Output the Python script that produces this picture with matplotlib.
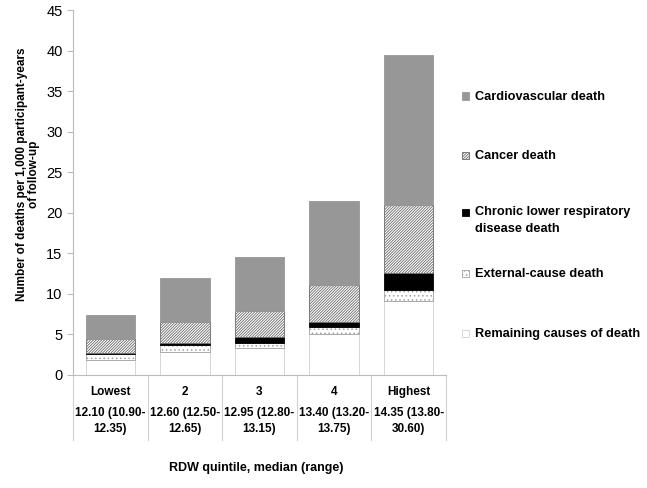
import matplotlib
matplotlib.use("Agg")
import matplotlib.pyplot as plt
from matplotlib.patches import Rectangle
import numpy as np

categories = ["Lowest", "2", "3", "4", "Highest"]
ranges_line1 = ["12.10 (10.90-", "12.60 (12.50-", "12.95 (12.80-", "13.40 (13.20-", "14.35 (13.80-"]
ranges_line2 = ["12.35)", "12.65)", "13.15)", "13.75)", "30.60)"]

remaining = [1.84, 2.82, 3.39, 5.00, 9.10]
external = [0.70, 0.82, 0.54, 0.90, 1.33]
clrd = [0.20, 0.33, 0.77, 0.65, 2.13]
cancer = [1.64, 2.57, 3.19, 4.54, 8.34]
cardio = [3.06, 5.36, 6.71, 10.39, 18.50]

plt.rcParams['font.family'] = ['Liberation Sans', 'DejaVu Sans']
plt.rcParams['hatch.linewidth'] = 0.6

W, H = 647, 488
fig = plt.figure(figsize=(W / 100, H / 100), dpi=100)
ax = fig.add_axes([73 / W, (H - 375) / H, (446 - 73) / W, (375 - 10) / H])

x = np.arange(len(categories))
bw = 0.66
bottom = np.zeros(len(categories))
edge = "#d0d0d0"

series = [
    (remaining, dict(facecolor="white", edgecolor=edge), "Remaining causes of death"),
    (external, dict(facecolor="white", edgecolor="#a0a0a0", hatch="...."), "External-cause death"),
    (clrd, dict(facecolor="black", edgecolor="black"), "Chronic lower respiratory\ndisease death"),
    (cancer, dict(facecolor="white", edgecolor="#6a6a6a", hatch="////////////"), "Cancer death"),
    (cardio, dict(facecolor="#979797", edgecolor="#979797"), "Cardiovascular death"),
]
for vals, style, label in series:
    ax.bar(x, vals, bw, bottom=bottom, linewidth=0.6, **style)
    bottom = bottom + np.array(vals)

ax.set_xlim(-0.5, len(categories) - 0.5)
ax.set_ylim(0, 45)
ax.set_yticks(np.arange(0, 46, 5))
ax.tick_params(axis='y', labelsize=10.5, direction='out', length=4.5, color='#bbbbbb', pad=3)
ax.set_xticks([])
for s in ["top", "right"]:
    ax.spines[s].set_visible(False)
ax.spines["left"].set_color("#bbbbbb")
ax.spines["bottom"].set_color("#bbbbbb")

tr = ax.get_xaxis_transform()
for b in np.arange(-0.5, len(categories), 1.0):
    ax.plot([b, b], [0, -65 / 365], transform=tr, color="#d0d0d0", lw=0.8, clip_on=False)
for i in range(len(categories)):
    ax.text(i, -17 / 365, categories[i], transform=tr, ha="center", va="center",
            fontsize=8.5, fontweight="bold")
    ax.text(i, -38 / 365, ranges_line1[i], transform=tr, ha="center", va="center",
            fontsize=8.5, fontweight="bold")
    ax.text(i, -54 / 365, ranges_line2[i], transform=tr, ha="center", va="center",
            fontsize=8.5, fontweight="bold")
ax.text(0.5 * (len(categories) - 1) - 0.05, -93 / 365, "RDW quintile, median (range)", transform=tr,
        ha="center", va="center", fontsize=9, fontweight="bold")

fig.text(28 / W, 1 - 174 / H, "Number of deaths per 1,000 participant-years\nof follow-up",
         rotation=90, ha="center", va="center", fontsize=8.5, fontweight="bold", linespacing=1.0)

# legend (manual, top to bottom)
leg_y = [96, 155, 213, 273, 333]
for (vals, style, label), yy in zip(series[::-1], leg_y):
    fig.add_artist(Rectangle((462 / W, 1 - (yy + 3.5) / H), 7 / W, 7 / H,
                             transform=fig.transFigure, linewidth=0.6, **style))
    if "\n" in label:
        fig.text(475 / W, 1 - (yy - 7) / H, label, ha="left", va="top",
                 fontsize=9.2, fontweight="bold", linespacing=1.55)
    else:
        fig.text(475 / W, 1 - (yy + 1) / H, label, ha="left", va="center",
                 fontsize=9.2, fontweight="bold")

fig.savefig("out.png", dpi=100)
